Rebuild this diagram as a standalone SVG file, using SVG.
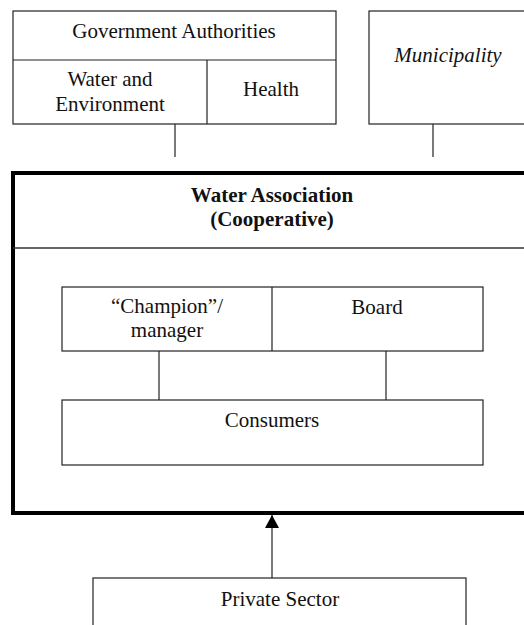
<svg xmlns="http://www.w3.org/2000/svg" width="524" height="625" viewBox="0 0 524 625">
<style>
.b{fill:#fff;stroke:#222;stroke-width:1.2}
.t{font-family:"Liberation Serif","Times New Roman",Tinos,serif;font-size:21px;fill:#111;text-anchor:middle}
.bold{font-weight:bold}
.it{font-style:italic}
.c{stroke:#222;stroke-width:1.2;fill:none}
</style>
<defs>
<marker id="ah" markerWidth="14" markerHeight="14" refX="13" refY="7" orient="auto" markerUnits="userSpaceOnUse">
<path d="M0,0 L13,7 L0,14 Z" fill="#000"/>
</marker>
</defs>
<rect width="524" height="625" fill="#fff"/>
<g id="gov">
<rect class="b" x="13" y="11" width="323" height="113"/>
<line class="c" x1="13" y1="60" x2="336" y2="60"/>
<line class="c" x1="207" y1="60" x2="207" y2="124"/>
<text class="t" x="174" y="38">Government Authorities</text>
</g>
<g id="water-env">
<text class="t" x="110" y="86">Water and</text>
<text class="t" x="110" y="111">Environment</text>
</g>
<g id="health">
<text class="t" x="271" y="96">Health</text>
</g>
<g id="municipality">
<rect class="b" x="369" y="11" width="170" height="113"/>
<text class="t it" x="448" y="62">Municipality</text>
</g>
<g id="connectors">
<line class="c" x1="175" y1="124" x2="175" y2="157"/>
<line class="c" x1="433" y1="124" x2="433" y2="157"/>
<line class="c" x1="159" y1="351" x2="159" y2="400"/>
<line class="c" x1="386" y1="351" x2="386" y2="400"/>
<line class="c" x1="272" y1="578" x2="272" y2="515" marker-end="url(#ah)"/>
</g>
<g id="water-association">
<rect x="13" y="173" width="520" height="340" fill="none" stroke="#000" stroke-width="4"/>
<line x1="13" y1="248" x2="530" y2="248" stroke="#333" stroke-width="1.5"/>
<text class="t bold" x="272" y="202">Water Association</text>
<text class="t bold" x="272" y="226">(Cooperative)</text>
</g>
<g id="champion">
<rect class="b" x="62" y="287" width="421" height="64"/>
<line class="c" x1="272" y1="287" x2="272" y2="351"/>
<text class="t" x="167" y="313">“Champion”/</text>
<text class="t" x="167" y="337">manager</text>
</g>
<g id="board">
<text class="t" x="377" y="314">Board</text>
</g>
<g id="consumers">
<rect class="b" x="62" y="400" width="421" height="65"/>
<text class="t" x="272" y="427">Consumers</text>
</g>
<g id="private-sector">
<rect class="b" x="93" y="578" width="373" height="60"/>
<text class="t" x="280" y="606">Private Sector</text>
</g>
</svg>
